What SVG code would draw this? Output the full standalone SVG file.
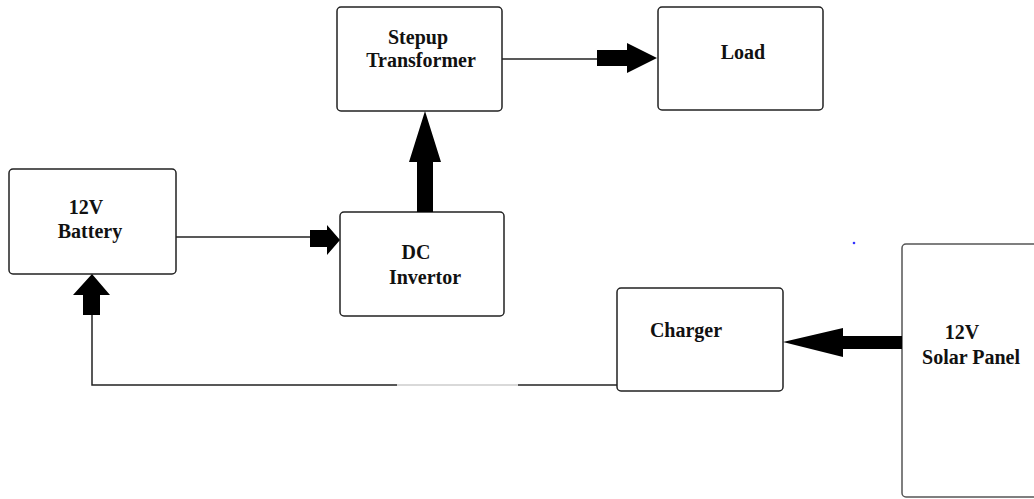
<svg xmlns="http://www.w3.org/2000/svg" width="1034" height="499" viewBox="0 0 1034 499">
<style>
.box{fill:#fff;stroke:#222;stroke-width:1.5}
.t{font-family:"Liberation Serif","Times New Roman",serif;font-weight:bold;font-size:20px;fill:#111;text-anchor:middle}
.ln{stroke:#222;stroke-width:1.5;fill:none}
.ah{fill:#000}
</style>
<rect width="1034" height="499" fill="#fff"/>
<g id="stepup"><rect class="box" x="337" y="7" width="165" height="104" rx="4"/><text class="t" x="418" y="44">Stepup</text><text class="t" x="421" y="67">Transformer</text></g>
<g id="load"><rect class="box" x="658" y="7" width="165" height="103" rx="4"/><text class="t" x="743" y="59">Load</text></g>
<g id="battery"><rect class="box" x="9" y="169" width="167" height="105" rx="4"/><text class="t" x="86" y="214">12V</text><text class="t" x="90" y="238">Battery</text></g>
<g id="invertor"><rect class="box" x="340" y="212" width="164" height="104" rx="4"/><text class="t" x="416" y="259">DC</text><text class="t" x="425" y="284">Invertor</text></g>
<g id="charger"><rect class="box" x="617" y="288" width="166" height="103" rx="4"/><text class="t" x="686" y="337">Charger</text></g>
<g id="solar"><rect class="box" x="902" y="244" width="150" height="253" rx="4" style="stroke:#555"/><text class="t" x="962" y="339">12V</text><text class="t" x="971" y="364">Solar Panel</text></g>
<g id="connectors">
<line class="ln" x1="502" y1="59" x2="598" y2="59"/>
<polygon class="ah" points="597,50 627,50 627,43 657,58 627,73 627,66 597,66"/>
<line class="ln" x1="176" y1="237" x2="311" y2="237"/>
<polygon class="ah" points="310,230 327,230 327,225 340,240 327,255 327,247 310,247"/>
<polygon class="ah" points="417,212 417,162 409,162 425,111 441,162 433,162 433,212"/>
<polygon class="ah" points="902,336 843,336 843,328 783,342 843,357 843,349 902,349"/>
<line class="ln" x1="617" y1="385" x2="518" y2="385"/>
<line x1="518" y1="385" x2="397" y2="385" stroke="#ccc" stroke-width="1.5"/>
<polyline class="ln" points="397,385 92,385 92,314"/>
<polygon class="ah" points="83,315 83,295 73,295 92,274 110,295 100,295 100,315"/>
</g>
<circle cx="854" cy="243" r="1.3" fill="#33f"/>
</svg>
